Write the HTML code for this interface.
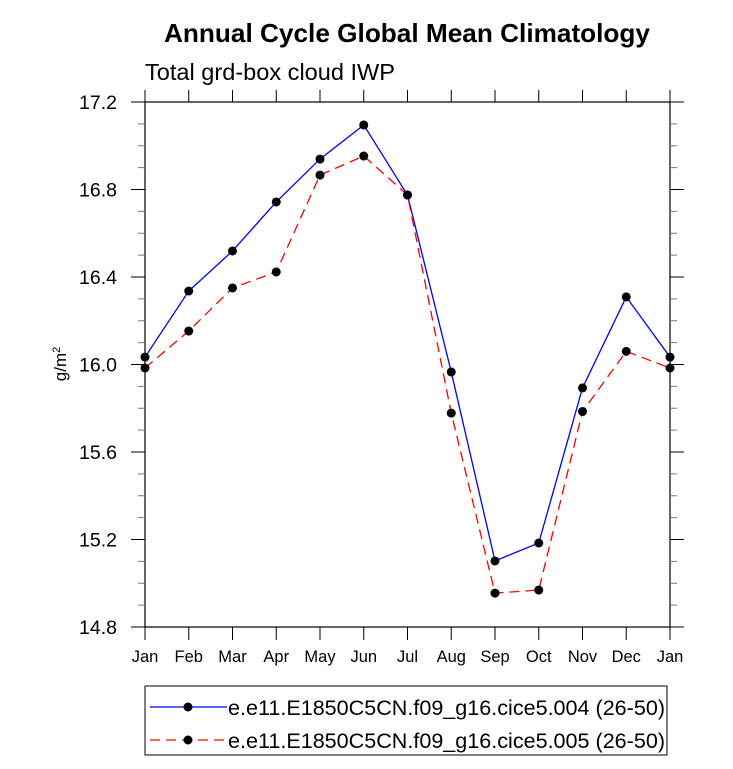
<!DOCTYPE html>
<html><head><meta charset="utf-8"><style>
body{margin:0;background:#fff;font-family:"Liberation Sans",sans-serif}
</style></head><body>
<svg width="733" height="764" xmlns="http://www.w3.org/2000/svg" font-family="Liberation Sans, sans-serif">
<text x="407" y="42" text-anchor="middle" font-size="26" font-weight="bold" textLength="486" lengthAdjust="spacingAndGlyphs">Annual Cycle Global Mean Climatology</text>
<text x="145" y="80" font-size="23" textLength="250" lengthAdjust="spacingAndGlyphs">Total grd-box cloud IWP</text>
<text transform="translate(66,364) rotate(-90)" text-anchor="middle" font-size="17">g/m<tspan baseline-shift="super" font-size="11">2</tspan></text>
<g id="axes"></g>
<g id="series"></g>
<rect x="145" y="686" width="522" height="69" fill="none" stroke="#000" stroke-width="1"/>
<g id="legend"></g>
</svg>
<script>
const months=["Jan","Feb","Mar","Apr","May","Jun","Jul","Aug","Sep","Oct","Nov","Dec","Jan"];
const series1=[16.034,16.336,16.519,16.743,16.939,17.095,16.775,15.966,15.102,15.184,15.893,16.309,16.034];
const series2=[15.984,16.153,16.35,16.423,16.866,16.953,16.775,15.778,14.955,14.969,15.785,16.06,15.984];
const yTicks=[14.8,15.2,15.6,16.0,16.4,16.8,17.2];
const names=["e.e11.E1850C5CN.f09_g16.cice5.004 (26-50)","e.e11.E1850C5CN.f09_g16.cice5.005 (26-50)"];
const L=145,R=670,T=102,B=627,ymin=14.8,ymax=17.2;
const NS="http://www.w3.org/2000/svg";
const X=i=>L+(R-L)*i/(months.length-1);
const Y=v=>B-(v-ymin)/(ymax-ymin)*(B-T);
function mk(t,a,p){const e=document.createElementNS(NS,t);for(const k in a)e.setAttribute(k,a[k]);p.appendChild(e);return e;}
const ax=document.getElementById('axes');
const fr=mk('rect',{x:L,y:T,width:R-L,height:B-T,fill:'none',stroke:'#000','stroke-width':1.2},ax);


months.forEach((m,i)=>{
  const x=X(i);
  mk('line',{x1:x,y1:B,x2:x,y2:B+13,stroke:'#000'},ax);
  mk('line',{x1:x,y1:T,x2:x,y2:T-12,stroke:'#000'},ax);
  const t=mk('text',{x:x,y:B+35,'text-anchor':'middle','font-size':16.5},ax);t.textContent=m;
  
  
});
for(let v=ymin;v<=ymax+1e-6;v+=0.1){
  const y=Y(v);const major=Math.abs((v-ymin)/0.4-Math.round((v-ymin)/0.4))<1e-3;const len=major?14:7;
  mk('line',{x1:L-len,y1:y,x2:L,y2:y,stroke:major?'#000':'#777'},ax);
  mk('line',{x1:R,y1:y,x2:R+len,y2:y,stroke:major?'#000':'#777'},ax);
}
yTicks.forEach(v=>{
  const t=mk('text',{x:117,y:Y(v)+7,'text-anchor':'end','font-size':19.5},ax);t.textContent=v.toFixed(1);
  
  
});
const sg=document.getElementById('series');
[[series1,'#0000ff',''],[series2,'#ff0000','10,6']].forEach(([d,c,da],k)=>{
  const pl=mk('polyline',{points:d.map((v,i)=>X(i)+','+Y(v)).join(' '),fill:'none',stroke:c,'stroke-width':1.3,'stroke-dasharray':da},sg);
  
  
  d.forEach((v,i)=>{
    const p=mk('circle',{cx:X(i),cy:Y(v),r:4.5,fill:'#000'},sg);
    
    
  });
});
const lg=document.getElementById('legend');
names.forEach((n,k)=>{
  const y=707+k*33;
  const c=k?'#ff0000':'#0000ff';
  const ln=mk('line',{x1:150,y1:y,x2:227,y2:y,stroke:c,'stroke-width':1.3,'stroke-dasharray':k?'10,6':''},lg);
  
  
  mk('circle',{cx:188,cy:y,r:4.5,fill:'#000'},lg);
  const t=mk('text',{x:228,y:y+8,'font-size':21,textLength:437,lengthAdjust:'spacingAndGlyphs'},lg);t.textContent=n;
  
  
});
</script>
</body></html>
